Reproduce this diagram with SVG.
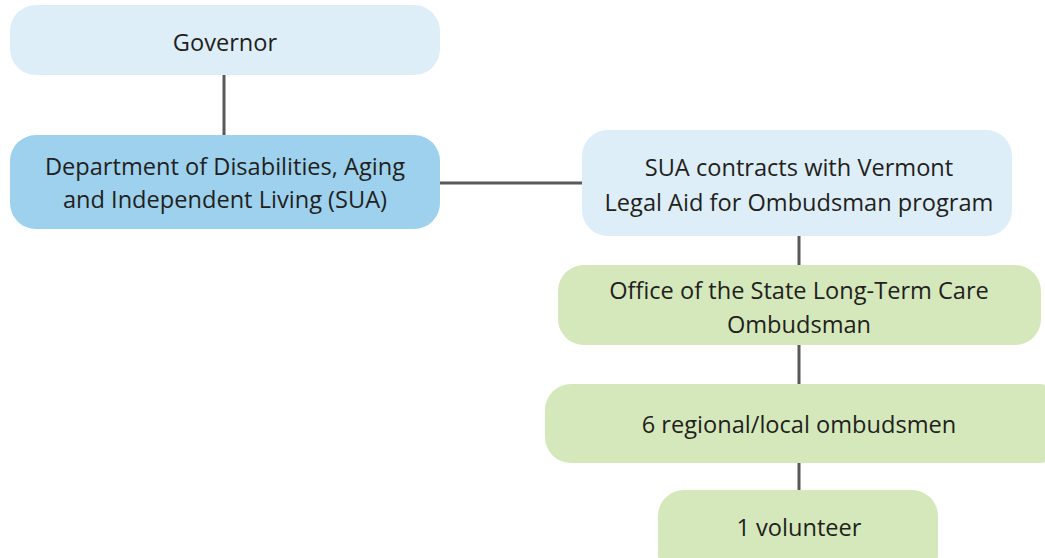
<svg xmlns="http://www.w3.org/2000/svg" width="1045" height="558" viewBox="0 0 1045 558">
<style>
text{font-family:"Open Sans","Liberation Sans",sans-serif;font-size:23.6px;fill:#231f20;text-anchor:middle;dominant-baseline:central}
.lb{fill:#ddeef9}.mb{fill:#9dd1ee}.gr{fill:#d5e8bb}
.c{stroke:#58595b;stroke-width:3;fill:none}
</style>
<rect width="1045" height="558" fill="#fff"/>
<g id="connectors">
<line class="c" x1="224" y1="75" x2="224" y2="135"/>
<line class="c" x1="440" y1="183" x2="582" y2="183"/>
<line class="c" x1="799" y1="236" x2="799" y2="265"/>
<line class="c" x1="799" y1="345" x2="799" y2="384"/>
<line class="c" x1="799" y1="463" x2="799" y2="490"/>
</g>
<g id="governor"><rect class="lb" x="10" y="5" width="430" height="70" rx="26"/><text x="225" y="42">Governor</text></g>
<g id="dept"><rect class="mb" x="10" y="135" width="430" height="94" rx="26"/><text x="225" y="166">Department of Disabilities, Aging</text><text x="225" y="199">and Independent Living (SUA)</text></g>
<g id="sua"><rect class="lb" x="582" y="130" width="430" height="106" rx="26"/><text x="799" y="167">SUA contracts with Vermont</text><text x="799" y="202">Legal Aid for Ombudsman program</text></g>
<g id="office"><rect class="gr" x="558" y="265" width="483" height="80" rx="26"/><text x="799" y="290">Office of the State Long-Term Care</text><text x="799" y="324">Ombudsman</text></g>
<g id="regional"><rect class="gr" x="545" y="384" width="520" height="79" rx="26"/><text x="799" y="424">6 regional/local ombudsmen</text></g>
<g id="volunteer"><rect class="gr" x="658" y="490" width="280" height="90" rx="26"/><text x="799" y="527">1 volunteer</text></g>
</svg>
